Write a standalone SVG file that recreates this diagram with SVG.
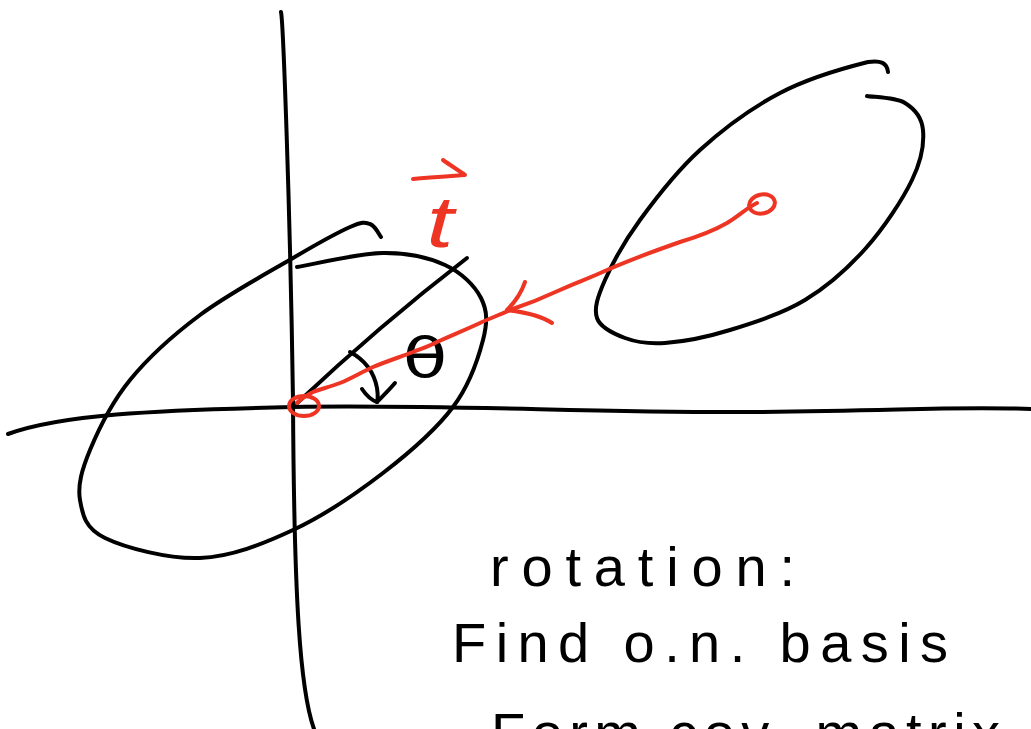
<svg xmlns="http://www.w3.org/2000/svg" width="1031" height="729" viewBox="0 0 1031 729">
<style>
.ink{fill:none;stroke:#000;stroke-width:4;stroke-linecap:round;stroke-linejoin:round}
.red{fill:none;stroke:#ee3524;stroke-width:4;stroke-linecap:round;stroke-linejoin:round}
.hand{font-family:"Liberation Sans","DejaVu Sans",sans-serif;fill:#000}
.redtxt{font-family:"Liberation Sans","DejaVu Sans",sans-serif;fill:#ee3524}
</style>
<rect width="1031" height="729" fill="#fff"/>
<g id="axes">
<path class="ink" d="M281,12 C283,20 290,200 293,400 C294,600 300,690 314,729"/>
<path class="ink" d="M8,434 C60,415 150,410 293,407 S600,413 750,412 S950,406 1031,409"/>
</g>
<g id="ellipse-origin">
<path class="ink" d="M381,237 C379.2,234.8 375.2,225.7 370,224 C364.8,222.3 362.8,221.3 350,227 C337.2,232.7 318,243.3 293,258 C268,272.7 227.2,294.7 200,315 C172.8,335.3 148.3,357.5 130,380 C111.7,402.5 98.3,430 90,450 C81.7,470 77.5,485.3 80,500 C82.5,514.7 85,528.3 105,538 C125,547.7 168.7,559.3 200,558 C231.3,556.7 262.5,544.2 293,530 C323.5,515.8 356.3,493.5 383,473 C409.7,452.5 436.3,429.2 453,407 C469.7,384.8 478.3,358.2 483,340 C487.7,321.8 487.3,310.5 481,298 C474.7,285.5 461.3,272.5 445,265 C428.7,257.5 407.7,252.7 383,253 C358.3,253.3 311.3,264.7 297,267"/>
<path class="ink" d="M295,405 Q380,325 467,258"/>
</g>
<g id="angle-theta">
<path class="ink" d="M350,352 C365,360 374,372 377,388 C378,395 378,399 377,402"/>
<path class="ink" d="M362,389 C366,395 371,400 377,402 C383,396 389,390 395,383"/>
<text x="0" y="0" font-family="DejaVu Sans, sans-serif" font-size="56" text-anchor="middle" fill="#000" transform="translate(425 377) scale(1.3 1)">θ</text>
</g>
<g id="ellipse-moved">
<path class="ink" d="M888,72 C887,63 881,60 868,62 C850,66.5 808,78.3 780,93 C752,107.7 723.3,128.8 700,150 C676.7,171.2 655.8,198.3 640,220 C624.2,241.7 612.2,263.7 605,280 C597.8,296.3 593.7,308.3 597,318 C600.3,327.7 613.7,333.8 625,338 C636.3,342.2 647.5,344.3 665,343 C682.5,341.7 706.7,337.2 730,330 C753.3,322.8 782.3,313.7 805,300 C827.7,286.3 848.2,268 866,248 C883.8,228 902.5,199.7 912,180 C921.5,160.3 924.2,142.8 923,130 C921.8,117.2 914.3,108.7 905,103 C895.7,97.3 873.3,97.2 867,96"/>
</g>
<g id="connectors">
<path class="red" d="M757,203 C748,207 740,215 727,223 C715,230 700,236 680,242 C660,249 630,260 607,270 C590,278 575,283 560,290 C545,297 525,305 510,310 C500,315 490,318 480,323 C465,330 450,336 437,342 C430,346 420,349 413,352 C400,357 385,362 373,367 C360,373 350,379 340,383 C330,387 320,389 313,392 C305,396 300,400 297,403"/>
<path class="red" d="M525,282 C521,294 514,303 507,310 C523,312 540,315 552,323"/>
<ellipse class="red" cx="762" cy="204" rx="13" ry="9.5" transform="rotate(-12 762 204)"/>
<ellipse class="red" cx="304" cy="406" rx="15" ry="10"/>
</g>
<g id="label-t">
<path class="red" d="M413,179 C430,177 450,176 465,175 C458,170 450,165 443,160"/>
<text class="redtxt" x="0" y="0" font-size="72" font-style="italic" text-anchor="middle" transform="translate(440 247) scale(1.35 1)">t</text>
</g>
<g id="notes">
<text class="hand" x="490" y="586" font-size="56" textLength="305" lengthAdjust="spacing">rotation:</text>
<text class="hand" x="452" y="662" font-size="56" textLength="496" lengthAdjust="spacing">Find o.n. basis</text>
<text class="hand" x="491" y="752" font-size="56" textLength="509" lengthAdjust="spacing">Form cov. matrix</text>
</g>
</svg>
